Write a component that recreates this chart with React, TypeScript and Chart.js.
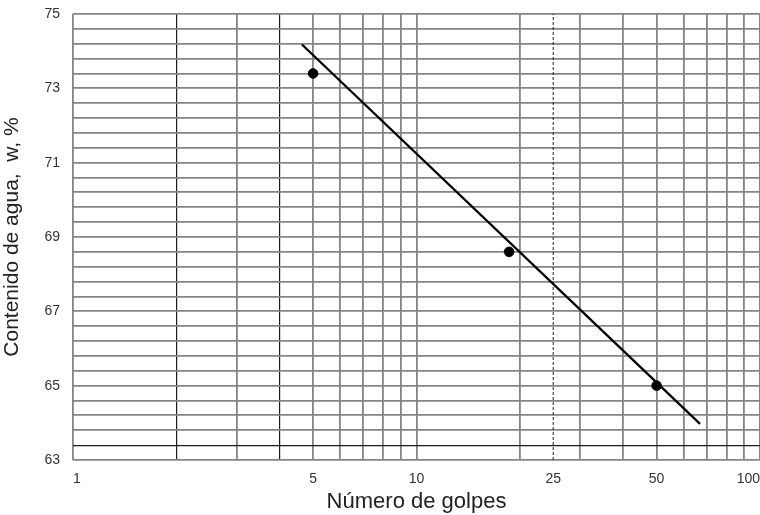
import React, { useEffect, useRef } from "react";
import { Chart, registerables } from "chart.js";

Chart.register(...registerables);

// Ensayo de límite líquido: golpes vs contenido de agua
const golpes = [5, 18.6, 50];
const contenidoAgua = [73.4, 68.6, 65.0];

// Recta de flujo ajustada
const flujoGolpes = [4.64, 66.9];
const flujoAgua = [74.18, 63.97];

// Referencia de 25 golpes
const refGolpes = [25, 25];
const refAgua = [63, 75];

// Rejilla semilogarítmica
const xGrid = [1, 2, 3, 4, 5, 6, 7, 8, 9, 10, 20, 25, 30, 40, 50, 60, 70, 80, 90, 100];
const xTickLabels = [1, 5, 10, 25, 50, 100];
const xDarkLines = [2, 4];
const yGrid = [
  63, 63.4, 63.8, 64.2, 64.6, 65, 65.4, 65.8, 66.2, 66.6, 67, 67.4, 67.8, 68.2, 68.6, 69,
  69.4, 69.8, 70.2, 70.6, 71, 71.4, 71.8, 72.2, 72.6, 73, 73.4, 73.8, 74.2, 74.6, 75,
];
const yTickLabels = [63, 65, 67, 69, 71, 73, 75];
const yDarkLines = [63.4];

const FONT = "'Liberation Sans', Arial, sans-serif";
const GRID_GRAY = "#858585";
const GRID_DARK = "#1c1c1c";

export default function App() {
  const canvasRef = useRef<HTMLCanvasElement | null>(null);

  useEffect(() => {
    const canvas = canvasRef.current;
    if (!canvas) return;

    const chart = new Chart(canvas, {
      type: "scatter",
      data: {
        datasets: [
          {
            label: "Ensayos",
            data: golpes.map((g, i) => ({ x: g, y: contenidoAgua[i] })),
            backgroundColor: "#000",
            borderColor: "#000",
            pointRadius: 4.8,
            showLine: false,
            order: 0,
          },
          {
            label: "Recta de flujo",
            data: flujoGolpes.map((g, i) => ({ x: g, y: flujoAgua[i] })),
            borderColor: "#000",
            borderWidth: 2.3,
            pointRadius: 0,
            showLine: true,
            order: 1,
          },
          {
            label: "25 golpes",
            data: refGolpes.map((g, i) => ({ x: g, y: refAgua[i] })),
            borderColor: "#222",
            borderWidth: 1,
            borderDash: [3, 2],
            pointRadius: 0,
            showLine: true,
            order: 2,
          },
        ],
      },
      options: {
        animation: false,
        responsive: false,
        layout: { autoPadding: false, padding: { top: 14, left: 0, right: 0, bottom: 0 } },
        plugins: {
          legend: { display: false },
          tooltip: { enabled: false },
        },
        scales: {
          x: {
            type: "logarithmic",
            position: "bottom",
            min: 1,
            max: 100,
            afterBuildTicks: (scale: any) => {
              scale.ticks = xGrid.map((v) => ({ value: v }));
            },
            afterFit: (scale: any) => {
              scale.height = 55;
              scale.paddingLeft = 0;
              scale.paddingRight = 0;
            },
            border: { display: false },
            grid: {
              drawTicks: false,
              color: (ctx: any) => {
                const v = ctx.tick?.value;
                if (v === 25) return "rgba(0,0,0,0)";
                return xDarkLines.includes(v) ? GRID_DARK : GRID_GRAY;
              },
              lineWidth: (ctx: any) => (xDarkLines.includes(ctx.tick?.value) ? 1.2 : 1.8),
            },
            ticks: {
              autoSkip: false,
              maxRotation: 0,
              align: "inner",
              padding: 11,
              color: "#333",
              font: { family: FONT, size: 14 },
              callback: (value: any) => (xTickLabels.includes(Number(value)) ? String(value) : ""),
            },
            title: {
              display: true,
              text: "Número de golpes",
              color: "#222",
              font: { family: FONT, size: 22 },
              padding: { top: 2, bottom: 0 },
            },
          },
          y: {
            type: "linear",
            min: 63,
            max: 75,
            afterBuildTicks: (scale: any) => {
              scale.ticks = yGrid.map((v) => ({ value: v }));
            },
            afterFit: (scale: any) => {
              scale.width = 73;
              scale.paddingTop = 0;
              scale.paddingBottom = 0;
            },
            border: { display: false },
            grid: {
              drawTicks: false,
              color: (ctx: any) => (yDarkLines.includes(ctx.tick?.value) ? GRID_DARK : GRID_GRAY),
              lineWidth: (ctx: any) => (yDarkLines.includes(ctx.tick?.value) ? 1.2 : 1.8),
            },
            ticks: {
              autoSkip: false,
              padding: 13,
              color: "#333",
              font: { family: FONT, size: 14 },
              callback: (value: any) => (yTickLabels.includes(Number(value)) ? String(value) : ""),
            },
            title: {
              display: true,
              text: "Contenido de agua,  w, %",
              color: "#222",
              font: { family: FONT, size: 21 },
              padding: { top: 0, bottom: 4 },
            },
          },
        },
      },
    });

    return () => chart.destroy();
  }, []);

  return (
    <div
      style={{
        position: "absolute",
        left: 0,
        top: 0,
        width: 760,
        height: 515,
        overflow: "hidden",
        background: "#fff",
      }}
    >
      <canvas ref={canvasRef} width={760} height={515} style={{ display: "block" }} />
    </div>
  );
}
